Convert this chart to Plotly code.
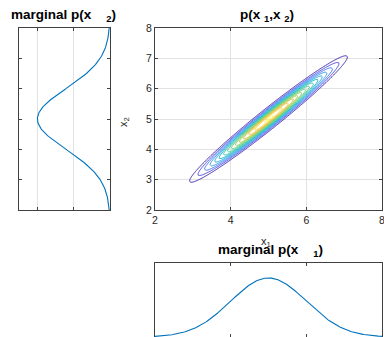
import numpy as np
import plotly.graph_objects as go

# ---- data / parameters ----
mu = [5.0, 5.0]
sigma = [1.0, 1.0]
rho = 0.98
grid_x1 = np.arange(2.0, 8.0001, 0.05)
grid_x2 = np.arange(2.0, 8.0001, 0.05)
level_start = 0.09
level_size = 0.05
level_end = 0.79
main_xticks = [2, 4, 6, 8]
main_yticks = [2, 3, 4, 5, 6, 7, 8]
marg_ticks = [0, 0.2, 0.4]

X1, X2 = np.meshgrid(grid_x1, grid_x2)
z1 = (X1 - mu[0]) / sigma[0]
z2 = (X2 - mu[1]) / sigma[1]
Q = (z1**2 - 2 * rho * z1 * z2 + z2**2) / (1 - rho**2)
P = np.exp(-Q / 2) / (2 * np.pi * sigma[0] * sigma[1] * np.sqrt(1 - rho**2))

xs = np.linspace(2, 8, 241)
p1 = np.exp(-0.5 * ((xs - mu[0]) / sigma[0]) ** 2) / (sigma[0] * np.sqrt(2 * np.pi))
p2 = np.exp(-0.5 * ((xs - mu[1]) / sigma[1]) ** 2) / (sigma[1] * np.sqrt(2 * np.pi))

# parula colormap samples (position, rgb)
parula_stops = [
    (0.00, (0.2422, 0.1504, 0.6603)), (0.05, (0.2706, 0.2147, 0.8364)),
    (0.10, (0.2795, 0.3447, 0.9717)), (0.15, (0.2206, 0.4603, 0.9973)),
    (0.20, (0.1687, 0.5703, 0.9359)), (0.25, (0.1380, 0.6276, 0.8973)),
    (0.30, (0.0952, 0.6798, 0.8598)), (0.35, (0.0036, 0.7203, 0.7917)),
    (0.40, (0.0964, 0.7500, 0.7120)), (0.45, (0.1938, 0.7758, 0.6251)),
    (0.55, (0.2906, 0.7973, 0.5188)), (0.62, (0.4456, 0.8024, 0.3909)),
    (0.70, (0.6174, 0.7876, 0.2612)), (0.77, (0.7738, 0.7598, 0.1646)),
    (0.83, (0.9035, 0.7330, 0.1774)), (0.88, (0.9956, 0.7434, 0.2371)),
    (0.92, (0.9892, 0.8136, 0.1885)), (0.96, (0.9610, 0.8890, 0.1537)),
    (1.00, (0.9769, 0.9839, 0.0805)),
]
parula = [[p, "rgb(%d,%d,%d)" % tuple(int(round(c * 255)) for c in rgb)]
          for p, rgb in parula_stops]

W, H = 384, 337
def px_x(a, b):
    return [a / W, b / W]
def px_y(top, bottom):
    return [1 - bottom / H, 1 - top / H]

fig = go.Figure()
fig.add_trace(go.Contour(
    x=grid_x1, y=grid_x2, z=P, xaxis="x", yaxis="y",
    colorscale=parula, showscale=False, zmin=level_start, zmax=float(P.max()),
    contours=dict(coloring="lines", start=level_start, end=level_end, size=level_size),
    line=dict(width=1, smoothing=0), hoverinfo="skip",
))
fig.add_trace(go.Scatter(x=p2, y=xs, mode="lines", xaxis="x2", yaxis="y2",
                         line=dict(color="#0072BD", width=1.1), hoverinfo="skip"))
fig.add_trace(go.Scatter(x=xs, y=p1, mode="lines", xaxis="x3", yaxis="y3",
                         line=dict(color="#0072BD", width=1.1), hoverinfo="skip"))

axcol = "#404040"
gridcol = "#e2e2e2"
tickfont = dict(family="Liberation Sans, Arial, sans-serif", size=10.5, color="#262626")
common = dict(showline=True, linecolor=axcol, linewidth=1, mirror="ticks",
              ticks="inside", ticklen=3, tickcolor=axcol, zeroline=False,
              tickfont=tickfont, gridcolor=gridcol, gridwidth=1, automargin=False)

main_dom_x = px_x(155, 382)
main_dom_y = px_y(28, 210)
fig.update_layout(
    template="none",
    width=W, height=H, margin=dict(l=0, r=0, t=0, b=0),
    paper_bgcolor="white", plot_bgcolor="white", showlegend=False,
    xaxis=dict(domain=main_dom_x, range=[2, 8], tickvals=main_xticks, showgrid=True,
               ticklabeloverflow="allow", **common),
    yaxis=dict(domain=main_dom_y, range=[2, 8], tickvals=main_yticks, showgrid=True, **common),
    xaxis2=dict(domain=px_x(19, 110), range=[0.5, 0], tickvals=marg_ticks, showticklabels=False,
                showgrid=True, anchor="y2", **common),
    yaxis2=dict(domain=main_dom_y, range=[2, 8], tickvals=main_yticks, showticklabels=False,
                showgrid=False, anchor="x2", **common),
    xaxis3=dict(domain=main_dom_x, range=[2, 8], tickvals=main_xticks, showticklabels=False,
                showgrid=False, anchor="y3", **common),
    yaxis3=dict(domain=px_y(263, 337), range=[0, 0.5], tickvals=[], showticklabels=False,
                showgrid=False, anchor="x3", **common),
)

tfont = dict(family="Liberation Sans, Arial, sans-serif", size=13.5, color="black")
def ann(text, x, y, angle=0, font=tfont):
    fig.add_annotation(text=text, x=x / W, y=1 - y / H, xref="paper", yref="paper",
                       showarrow=False, textangle=angle, font=font,
                       xanchor="center", yanchor="middle")

lab = dict(family="Liberation Sans, Arial, sans-serif", size=11, color="#262626")
ann("x<sub>1</sub>", 266, 242, font=lab)
ann("x<sub>2</sub>", 124, 122, angle=-90, font=lab)
ann("<b>p(x&nbsp;<sub>1</sub>,x&nbsp;<sub>2</sub>)</b>", 267, 16)
ann("<b>marginal p(x&nbsp;&nbsp;&nbsp;&nbsp;<sub>2</sub>)</b>", 63, 16)
ann("<b>marginal p(x&nbsp;&nbsp;&nbsp;&nbsp;<sub>1</sub>)</b>", 270, 250)

fig.write_html("out.html", config={"displayModeBar": False},
               post_script="document.body.style.margin='0';document.body.style.overflow='hidden';")
